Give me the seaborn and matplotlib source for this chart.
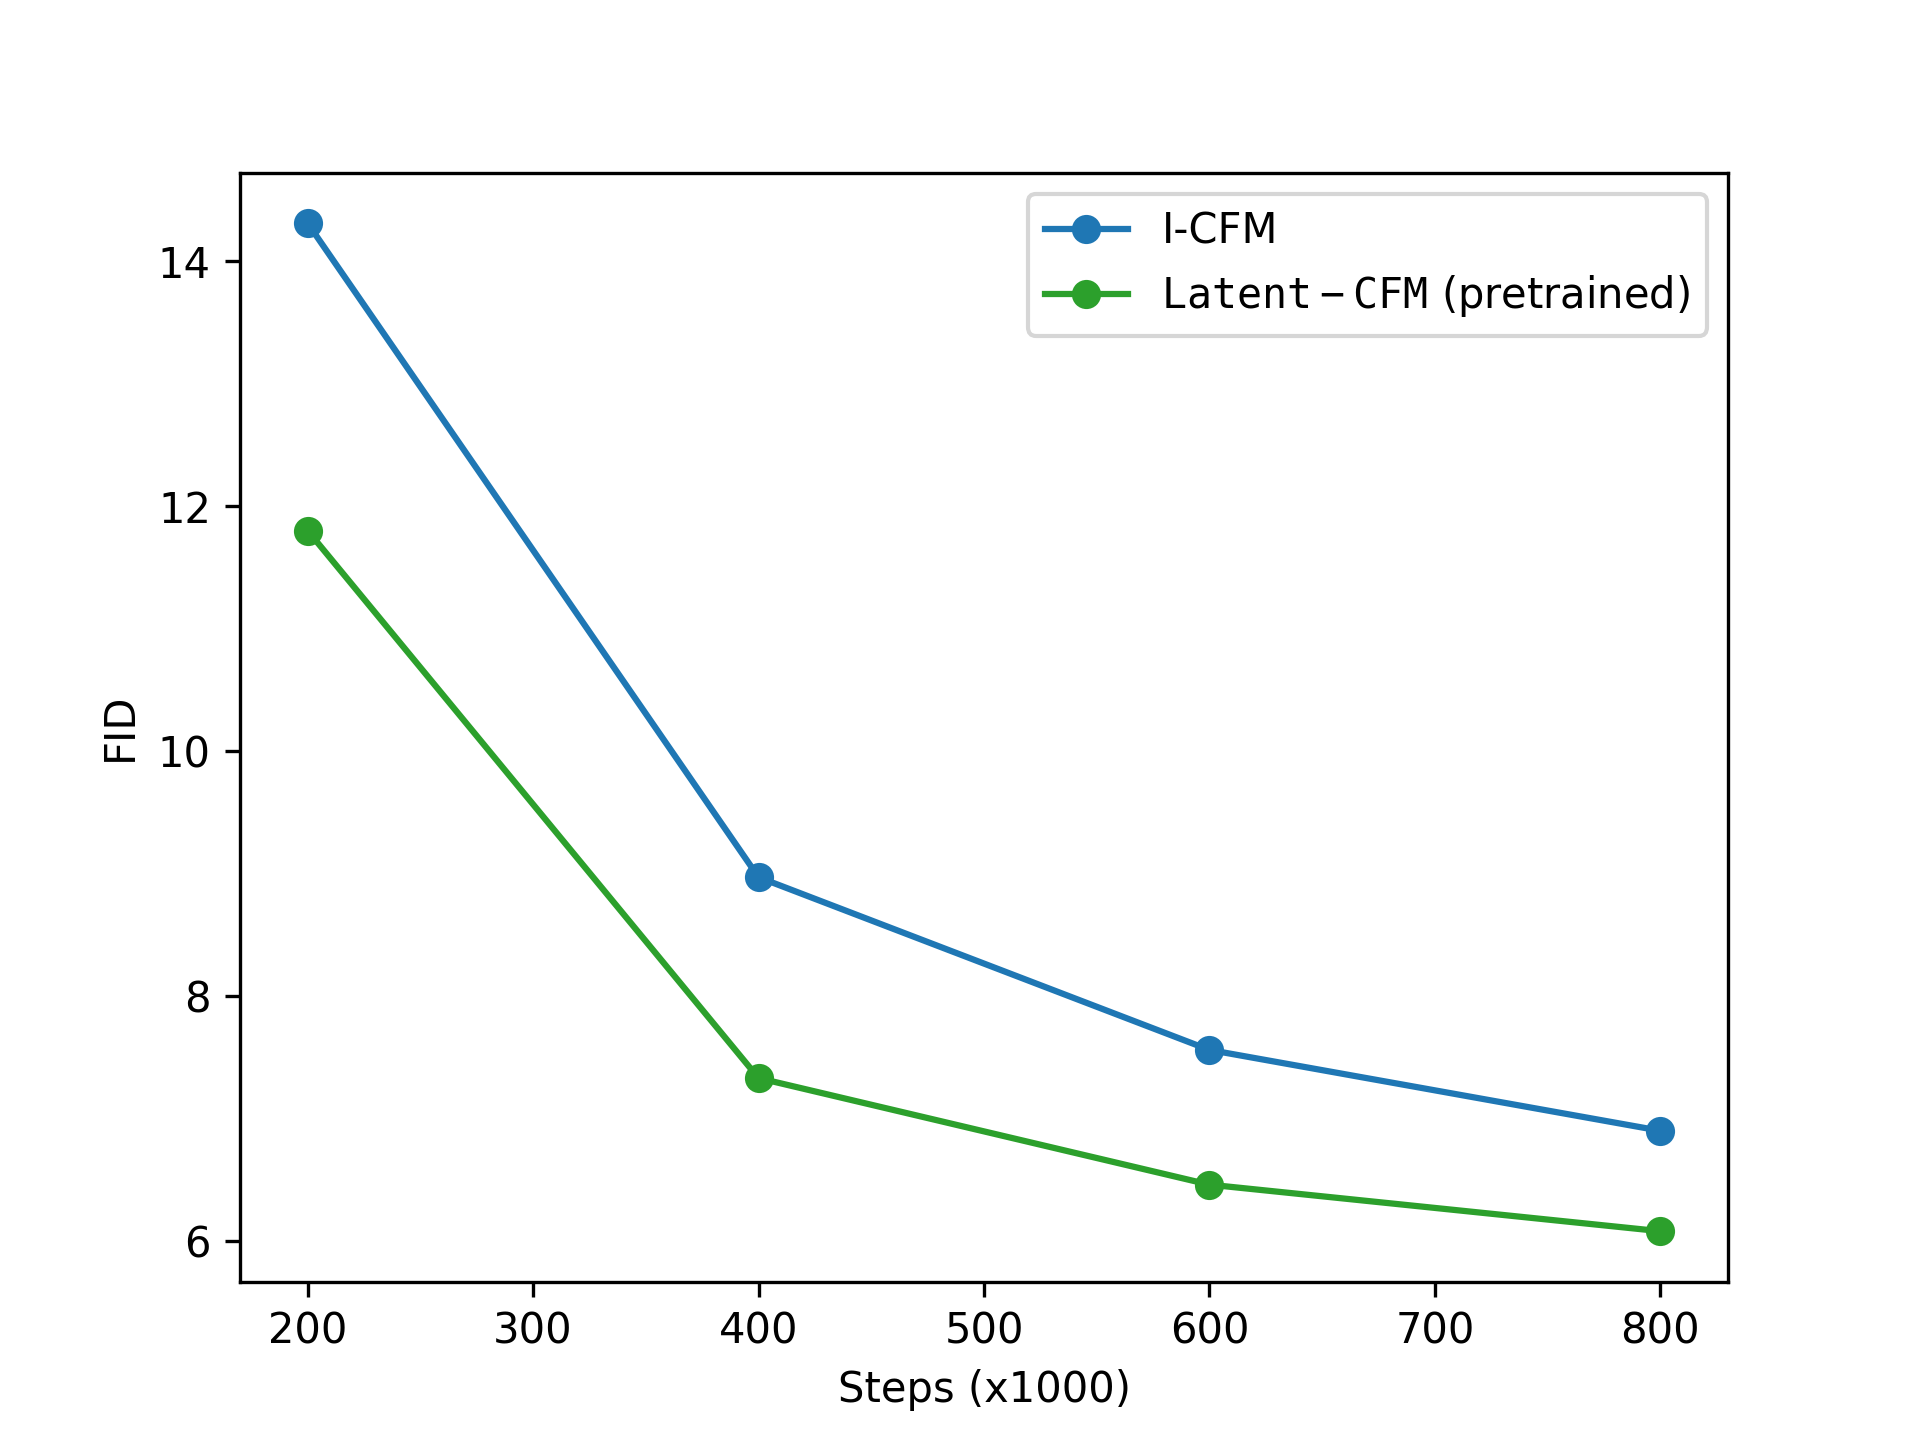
import pandas as pd
import matplotlib
matplotlib.use("Agg")
import matplotlib.pyplot as plt
import seaborn as sns

steps = [200, 400, 600, 800]
fid_icfm = [14.31, 8.97, 7.56, 6.90]
fid_latent = [11.80, 7.33, 6.46, 6.08]

labels = ['I-CFM', r'$\mathtt{Latent-CFM}$ (pretrained)']
colors = ['#1f77b4', '#2ca02c']

df = pd.DataFrame({
    'Steps': steps * 2,
    'FID': fid_icfm + fid_latent,
    'Method': [labels[0]] * len(steps) + [labels[1]] * len(steps),
})

fig, ax = plt.subplots(figsize=(6.4, 4.8))
sns.lineplot(data=df, x='Steps', y='FID', hue='Method', palette=colors,
             marker='o', markersize=7, markeredgewidth=0, linewidth=1.5, ax=ax)

ax.set_xlabel('Steps (x1000)')
ax.set_ylabel('FID')
ax.legend(title=None, loc='upper right')

plt.savefig('out.png', dpi=300)
plt.close()
